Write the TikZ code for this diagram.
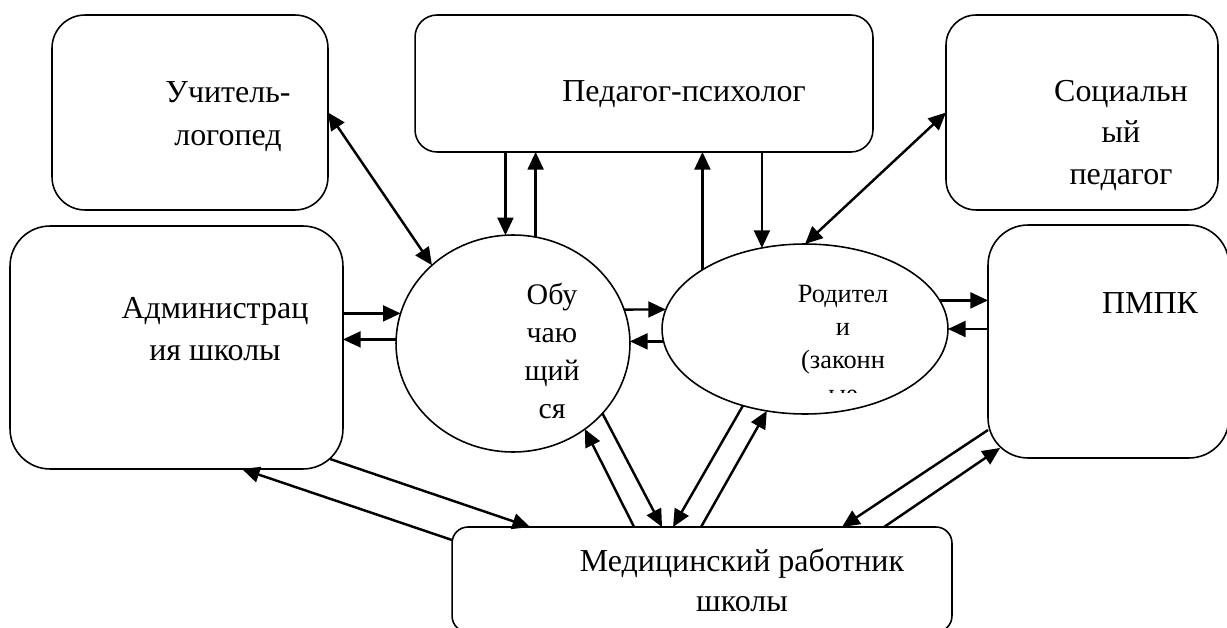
\documentclass[tikz,border=0pt]{standalone}
\usepackage{fontspec}
\setmainfont{Liberation Serif}
\usetikzlibrary{calc, shapes.geometric, arrows.meta}
\tikzset{
box/.style={draw, line width=0.9pt, inner sep=0pt, outer sep=0pt},
oval/.style={draw, ellipse, line width=0.9pt, inner sep=0pt, outer sep=0pt},
txt/.style={anchor=north, align=center, inner sep=0pt},
link/.style={line width=1.4pt, -{Triangle[length=10pt, width=9pt]}},
twoway/.style={line width=1.4pt, {Triangle[length=10pt, width=9pt]}-{Triangle[length=10pt, width=9pt]}},
}

\begin{document}
\begin{tikzpicture}[x=0.02cm, y=-0.02cm]
    \useasboundingbox (0,0) rectangle (1227,628);

    %boxes
    \node[box, rounded corners=0.66cm, minimum width=5.52cm, minimum height=3.90cm]  (logoped) at (190,112.5) { };
    \node[box, rounded corners=0.44cm, minimum width=9.16cm, minimum height=2.74cm]    (psych) at (644,83.5) { };
    \node[box, rounded corners=0.60cm, minimum width=5.44cm, minimum height=3.90cm]   (social) at (1082,112.5) { };
    \node[box, rounded corners=0.80cm, minimum width=6.66cm, minimum height=4.86cm]    (admin) at (176.5,347.5) { };
    \node[box, rounded corners=0.80cm, minimum width=4.82cm, minimum height=4.66cm]     (pmpk) at (1108.5,341.5) { };
    \node[box, rounded corners=0.32cm, minimum width=10.0cm, minimum height=2.10cm]    (medic) at (702,579.5) { };

    %ovals
    \node[oval, minimum width=4.68cm, minimum height=4.34cm]   (pupil) at (513,343.5) { };
    \node[oval, minimum width=5.72cm, minimum height=3.40cm] (parents) at (805,329) { };

    %texts
    \node[txt, font=\fontsize{18.2}{24.4}\selectfont] (logoped-t) at (228,81) {Учитель-\\логопед};
    \node[txt, font=\fontsize{18.2}{22.7}\selectfont]   (psych-t) at (684,80) {Педагог-психолог};
    \node[txt, font=\fontsize{18.2}{23.6}\selectfont]  (social-t) at (1121,80) {Социальн\\ый\\педагог};
    \node[txt, font=\fontsize{18.2}{23.8}\selectfont]   (admin-t) at (215,297) {Администрац\\ия школы};
    \node[txt, font=\fontsize{18.2}{22.7}\selectfont]    (pmpk-t) at (1150,292) {ПМПК};
    \node[txt, font=\fontsize{18.2}{22.7}\selectfont]   (medic-t) at (742,548) {Медицинский работник\\школы};
    \node[txt, font=\fontsize{17.0}{21.5}\selectfont]   (pupil-t) at (552,283) {Обу\\чаю\\щий\\ся};
    \begin{scope}
        \clip (600,200) rectangle (1000,392);
        \node[txt, font=\fontsize{15}{19}\selectfont] (parents-t) at (843,284.5) {Родител\\и\\(законн\\ые};
    \end{scope}

    %arrows to the top row
    \draw[twoway] (logoped.east) -- (pupil.136);
    \draw[link]   (pupil.94 |- psych.south) -- (pupil.94);
    \draw[link]   (pupil.78) -- (pupil.78 |- psych.south);
    \draw[link]   (parents.150) -- (parents.150 |- psych.south);
    \draw[link]   (parents.118 |- psych.south) -- (parents.118);
    \draw[twoway] (social.west) -- (parents.north);

    %arrows in the middle row
    \draw[link] (admin.east |- pupil.165) -- (pupil.165);
    \draw[link] (pupil.178) -- (admin.east |- pupil.178);
    \draw[link] (pupil.17) -- (parents.172);
    \draw[link] (parents.185) -- (parents.185 -| pupil.east);
    \draw[link] (parents.12) -- (pmpk.west |- parents.12);
    \draw[link] (pmpk.west |- parents.east) -- (parents.east);

    %arrows to the medical worker
    \draw[link] ($(medic.north west)+(0,13)$) -- ($(admin.south west)+(232,0)$);
    \draw[link] ($(admin.south east)+(-13,-10)$) -- ($(medic.north west)+(78,0)$);
    \draw[link] ($(medic.north west)+(182,0)$) -- (pupil.310);
    \draw[link] (pupil.322) -- ($(medic.north west)+(210,0)$);
    \draw[link] (parents.231) -- ($(medic.north west)+(221,0)$);
    \draw[link] ($(medic.north west)+(249,0)$) -- (parents.245);
    \draw[link] ($(pmpk.south west)+(0,-28)$) -- ($(medic.north west)+(390,0)$);
    \draw[link] ($(medic.north west)+(432,0)$) -- ($(pmpk.south west)+(12,-10)$);

\end{tikzpicture}
\end{document}
